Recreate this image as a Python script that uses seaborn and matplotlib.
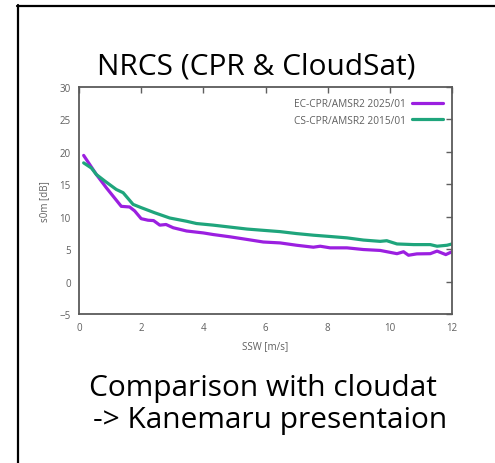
import matplotlib
matplotlib.use("Agg")
import matplotlib.pyplot as plt
import seaborn as sns
import pandas as pd
from matplotlib.lines import Line2D

# ---- data ----
ec_label = "EC-CPR/AMSR2 2025/01"
cs_label = "CS-CPR/AMSR2 2015/01"

ec_ssw = [0.15, 0.56, 0.88, 1.36, 1.63, 1.79, 2.0, 2.22, 2.4, 2.6, 2.8, 3.03, 3.46, 4.0,
          4.32, 4.86, 5.4, 5.93, 6.47, 7.0, 7.54, 7.76, 8.08, 8.62, 9.15, 9.69, 10.23,
          10.44, 10.6, 10.87, 11.3, 11.52, 11.8, 12.0]
ec_s0m = [19.45, 16.5, 14.46, 11.6, 11.5, 10.9, 9.7, 9.46, 9.4, 8.7, 8.8, 8.3, 7.8, 7.5,
          7.25, 6.9, 6.5, 6.1, 5.96, 5.6, 5.3, 5.45, 5.2, 5.2, 4.94, 4.8, 4.3,
          4.6, 4.06, 4.27, 4.3, 4.7, 4.16, 4.6]

cs_ssw = [0.15, 0.4, 0.56, 0.83, 1.2, 1.42, 1.74, 2.0, 2.44, 2.92, 3.46, 3.78, 4.32, 4.86,
          5.4, 5.93, 6.47, 7.0, 7.54, 8.08, 8.62, 9.15, 9.69, 9.9, 10.23, 10.77, 11.3,
          11.52, 11.84, 12.0]
cs_s0m = [18.3, 17.5, 16.5, 15.5, 14.2, 13.7, 11.9, 11.4, 10.6, 9.8, 9.3, 8.95, 8.7, 8.4,
          8.1, 7.9, 7.7, 7.4, 7.15, 6.95, 6.74, 6.4, 6.2, 6.3, 5.8, 5.7, 5.7,
          5.45, 5.6, 5.8]

x_ticks = [0, 2, 4, 6, 8, 10, 12]
y_ticks = [-5, 0, 5, 10, 15, 20, 25, 30]

title_text = "NRCS (CPR & CloudSat)"
footer_lines = ["Comparison with cloudat", "-> Kanemaru presentaion"]

# ---- build frame ----
df = pd.concat([
    pd.DataFrame({"SSW": ec_ssw, "s0m": ec_s0m, "series": ec_label}),
    pd.DataFrame({"SSW": cs_ssw, "s0m": cs_s0m, "series": cs_label}),
], ignore_index=True)

sns.set_theme(style="white")
plt.rcParams["font.family"] = ["Open Sans", "DejaVu Sans"]

W, H = 495, 464
fig = plt.figure(figsize=(W / 100, H / 100), dpi=100)
fig.patch.set_facecolor("white")
ax = fig.add_axes([79 / W, 1 - 315 / H, (452 - 79) / W, (315 - 88) / H])

palette = {ec_label: "#9b1fe0", cs_label: "#1fa57c"}
sns.lineplot(data=df, x="SSW", y="s0m", hue="series", palette=palette,
             linewidth=2.3, ax=ax, sort=False, estimator=None)

ax.set_xlim(0, 12)
ax.set_ylim(-5, 30)
ax.set_xticks(x_ticks)
ax.set_yticks(y_ticks)
tick_col = "#5f5f5f"
ax.tick_params(axis="both", direction="in", length=4, width=1, color=tick_col,
               labelsize=7, labelcolor=tick_col, top=True, right=True,
               labeltop=False, labelright=False, pad=6)
for s in ax.spines.values():
    s.set_visible(True)
    s.set_color("#5a5a5a")
    s.set_linewidth(1.3)
ax.set_xlabel("SSW [m/s]", fontsize=7, color=tick_col, labelpad=5)
ax.set_ylabel("s0m [dB]", fontsize=7, color=tick_col, labelpad=7)

leg = ax.legend(loc="upper right", frameon=False, fontsize=7.3, markerfirst=False,
                handlelength=3.0, handletextpad=0.6, labelspacing=0.55,
                bbox_to_anchor=(1.0, 0.99))
for t in leg.get_texts():
    t.set_color(tick_col)

# title and footer
fig.text(256 / W, 1 - 67 / H, title_text, ha="center", va="center", fontsize=21.5,
         color="black")
fig.text(263 / W, 1 - 389 / H, footer_lines[0], ha="center", va="center",
         fontsize=21.5, color="black")
fig.text(270 / W, 1 - 421 / H, footer_lines[1], ha="center", va="center",
         fontsize=21.5, color="black")

# outer frame (partially cropped)
fig.add_artist(Line2D([18 / W, 18 / W], [0, 1 - 6 / H], transform=fig.transFigure,
                      color="black", linewidth=1.6))
fig.add_artist(Line2D([17 / W, 1], [1 - 6.5 / H, 1 - 6.5 / H], transform=fig.transFigure,
                      color="black", linewidth=1.6))

fig.savefig("out.png", dpi=100, facecolor="white")
